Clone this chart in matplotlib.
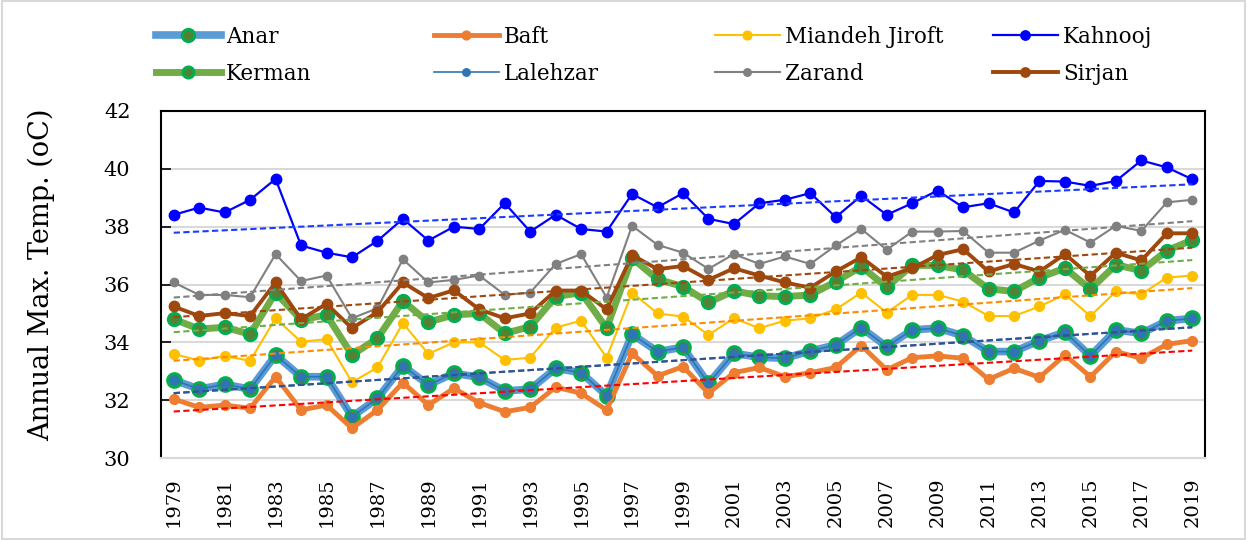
import matplotlib.pyplot as plt
import numpy as np

plt.rcParams['font.family'] = ['DejaVu Serif']

years = np.arange(1979, 2020)

anar = [32.70, 32.38, 32.55, 32.38, 33.56, 32.81, 32.81, 31.43, 32.06, 33.19, 32.53,
        32.93, 32.79, 32.32, 32.38, 33.10, 32.95, 32.16, 34.28, 33.68, 33.83, 32.58,
        33.62, 33.48, 33.45, 33.70, 33.91, 34.51, 33.85, 34.43, 34.49, 34.23, 33.68,
        33.68, 34.06, 34.35, 33.53, 34.43, 34.31, 34.74, 34.83]
baft = [32.04, 31.75, 31.83, 31.72, 32.81, 31.66, 31.83, 31.03, 31.66, 32.61, 31.83,
        32.41, 31.91, 31.60, 31.75, 32.45, 32.24, 31.66, 33.62, 32.84, 33.16, 32.24,
        32.95, 33.13, 32.81, 32.95, 33.13, 33.89, 33.05, 33.47, 33.53, 33.45, 32.72,
        33.10, 32.79, 33.56, 32.81, 33.68, 33.45, 33.93, 34.06]
miandeh = [33.60, 33.37, 33.53, 33.36, 34.83, 34.02, 34.11, 32.62, 33.13, 34.66, 33.60,
           34.00, 34.00, 33.39, 33.47, 34.51, 34.75, 33.47, 35.72, 35.00, 34.89, 34.26,
           34.83, 34.49, 34.75, 34.83, 35.14, 35.72, 35.03, 35.64, 35.64, 35.41, 34.91,
           34.91, 35.24, 35.66, 34.91, 35.76, 35.66, 36.24, 36.31]
kahnooj = [38.41, 38.66, 38.49, 38.93, 39.65, 37.35, 37.10, 36.94, 37.51, 38.27, 37.52,
           38.00, 37.92, 38.81, 37.83, 38.41, 37.92, 37.83, 39.13, 38.67, 39.16, 38.27,
           38.09, 38.81, 38.93, 39.16, 38.33, 39.07, 38.41, 38.81, 39.25, 38.67, 38.81,
           38.49, 39.58, 39.56, 39.41, 39.58, 40.29, 40.05, 39.64]
kerman = [34.80, 34.46, 34.52, 34.28, 35.72, 34.78, 34.95, 33.56, 34.14, 35.43, 34.70,
          34.95, 35.00, 34.31, 34.54, 35.58, 35.72, 34.49, 36.91, 36.18, 35.93, 35.38,
          35.78, 35.61, 35.58, 35.64, 36.10, 36.62, 35.91, 36.66, 36.66, 36.50, 35.85,
          35.76, 36.24, 36.56, 35.84, 36.68, 36.48, 37.17, 37.54]
lalehzar = [32.70, 32.38, 32.55, 32.38, 33.56, 32.81, 32.81, 31.43, 32.06, 33.19, 32.53,
            32.93, 32.79, 32.32, 32.38, 33.10, 32.95, 32.16, 34.28, 33.68, 33.83, 32.58,
            33.62, 33.48, 33.45, 33.70, 33.91, 34.51, 33.85, 34.43, 34.49, 34.23, 33.68,
            33.68, 34.06, 34.35, 33.53, 34.43, 34.31, 34.74, 34.83]
zarand = [36.07, 35.64, 35.64, 35.56, 37.05, 36.12, 36.31, 34.83, 35.18, 36.87, 36.07,
          36.16, 36.31, 35.64, 35.72, 36.71, 37.05, 35.55, 38.03, 37.37, 37.10, 36.54,
          37.05, 36.71, 36.97, 36.71, 37.35, 37.92, 37.20, 37.83, 37.83, 37.85, 37.10,
          37.10, 37.52, 37.89, 37.45, 38.03, 37.85, 38.84, 38.93]
sirjan = [35.24, 34.91, 35.01, 34.91, 36.07, 34.80, 35.33, 34.49, 35.04, 36.07, 35.53,
          35.80, 35.14, 34.83, 35.00, 35.79, 35.79, 35.14, 37.02, 36.53, 36.64, 36.16,
          36.56, 36.31, 36.07, 35.89, 36.45, 36.94, 36.27, 36.56, 37.02, 37.22, 36.45,
          36.71, 36.45, 37.05, 36.30, 37.10, 36.83, 37.77, 37.77]

names = ['Anar', 'Baft', 'Miandeh Jiroft', 'Kahnooj', 'Kerman', 'Lalehzar', 'Zarand', 'Sirjan']
series = [anar, baft, miandeh, kahnooj, kerman, lalehzar, zarand, sirjan]

# line colour, line width, marker size, marker face, marker edge, trend colour
styles = {
    'Anar': ('#5B9BD5', 5.5, 10, '#548235', '#00B050', '#2F5597'),
    'Baft': ('#ED7D31', 3.5, 7, '#ED7D31', '#ED7D31', '#FF0000'),
    'Miandeh Jiroft': ('#FFC000', 1.5, 7, '#FFC000', '#FFC000', '#FF8C00'),
    'Kahnooj': ('#0000FF', 1.6, 7.5, '#0000FF', '#0000FF', '#1A3CFF'),
    'Kerman': ('#70AD47', 5.0, 9, '#548235', '#00B050', '#70AD47'),
    'Lalehzar': ('#2E75B6', 1.2, 6, '#2E75B6', '#2E75B6', '#2F5597'),
    'Zarand': ('#808080', 1.5, 6, '#808080', '#808080', '#808080'),
    'Sirjan': ('#9E480E', 2.8, 7.5, '#9E480E', '#9E480E', '#9E480E'),
}

fig = plt.figure(figsize=(12.47, 5.4), dpi=100)
ax = fig.add_axes([161 / 1247, 1 - 458 / 540, (1205 - 161) / 1247, (458 - 111) / 540])

handles = {}
for i, (name, vals) in enumerate(zip(names, series)):
    lc, lw, ms, mf, me, tc = styles[name]
    mew = 2.0 if name in ('Anar', 'Kerman') else 1.0
    h, = ax.plot(years, vals, color=lc, lw=lw, marker='o', ms=ms, mfc=mf, mec=me,
                 mew=mew, zorder=3 + i, label=name)
    handles[name] = h

# linear trend lines
for name, vals in zip(names, series):
    tc = styles[name][5]
    k, b = np.polyfit(years, vals, 1)
    ax.plot(years, k * years + b, color=tc, lw=1.5, dashes=(3, 1.6), zorder=20)

ax.set_xlim(1978.5, 2019.5)
ax.set_ylim(30, 42)
ax.set_yticks(np.arange(30, 43, 2))
ax.set_xticks(years[::2])
ax.set_xticklabels([str(y) for y in years[::2]], rotation=90)
ax.tick_params(axis='x', length=0, pad=14, labelsize=14)
ax.tick_params(axis='y', direction='in', length=7, width=1.2, pad=22, labelsize=15)
ax.grid(axis='y', color='#D9D9D9', lw=1.5, zorder=0)
ax.set_axisbelow(True)
for s in ('left', 'top', 'right'):
    ax.spines[s].set_color('black')
    ax.spines[s].set_linewidth(1.5)
ax.spines['bottom'].set_color('#D9D9D9')
ax.spines['bottom'].set_linewidth(1.5)

fig.text(41 / 1247, 1 - 275 / 540, 'Annual Max. Temp. (oC)', rotation=90,
         ha='center', va='center', fontsize=19.5)

# legend, 4 columns of 2 entries
cols = [('Anar', 'Kerman'), ('Baft', 'Lalehzar'), ('Miandeh Jiroft', 'Zarand'), ('Kahnooj', 'Sirjan')]
col_x = [156, 434, 715, 993]
for pair, x0 in zip(cols, col_x):
    fig.legend([handles[n] for n in pair], pair, loc='upper left',
               bbox_to_anchor=(x0 / 1247, 1 - 26 / 540), frameon=False,
               fontsize=15.5, handlelength=3.0, handletextpad=0.25,
               borderpad=0, borderaxespad=0, labelspacing=0.68, markerscale=0.9)

fig.patches.append(plt.Rectangle((0.002, 0.002), 0.996, 0.996, transform=fig.transFigure,
                                 fill=False, edgecolor='#D9D9D9', lw=1.5))

plt.savefig('out.png', dpi=100)
